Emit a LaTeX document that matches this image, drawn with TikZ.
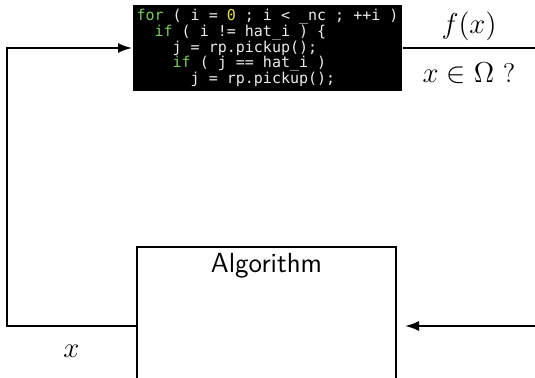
\documentclass[tikz,border=0pt]{standalone}
\usepackage{fontspec}
\setmonofont{DejaVu Sans Mono}
\usetikzlibrary{arrows.meta}
\definecolor{kwgreen}{RGB}{120,205,90}
\definecolor{numyellow}{RGB}{230,225,70}
\definecolor{codewhite}{RGB}{235,235,235}
\newcommand{\kw}[1]{\textcolor{kwgreen}{#1}}
\newcommand{\ind}[1]{\phantom{#1}}

\begin{document}
\begin{tikzpicture}[>={Latex[length=7pt,width=5pt]}, x=0.5pt, y=-0.5pt, line width=1pt,
	lbl/.style={font=\fontsize{13.5}{16}\selectfont},
	codebox/.style={fill=black, text=codewhite, inner sep=0pt, align=left,
		minimum width=134.5pt, minimum height=43pt,
		font=\ttfamily\fontsize{7.5}{7.85}\selectfont}]
	\useasboundingbox (0,0) rectangle (535,378);
	\clip (0,0) rectangle (535,378);

	\node [codebox] (code) at (267.5,48) {\kw{for} ( i = \textcolor{numyellow}{0} ; i < \_nc ; ++i )\\
		\ind{xx}\kw{if} ( i != hat\_i ) \{\\
		\ind{xxxx}j = rp.pickup();\\
		\ind{xxxx}\kw{if} ( j == hat\_i )\\
		\ind{xxxxxx}j = rp.pickup();};
	\node [draw, minimum width=129.5pt, minimum height=79pt] (algo) at (266.5,326) {};
	\node [below, font=\sffamily\fontsize{13.8}{16}\selectfont] (algotitle) at (algo.north) {Algorithm};

	\coordinate (outR) at (535,48);
	\coordinate (inR) at (535,326);

	\draw [->] (algo.west) -- node[below=5.5pt, lbl] (xlbl) {$x$} ++(-129,0) |- (code.west);
	\draw (code.east) -- node[above, lbl] (fx) {$f(x)$}
		node[below=3.5pt, lbl] (test) {$x \in \Omega$ ?} (outR);
	\draw [->, shorten >=4pt] (inR) -- (algo.east);
\end{tikzpicture}
\end{document}
